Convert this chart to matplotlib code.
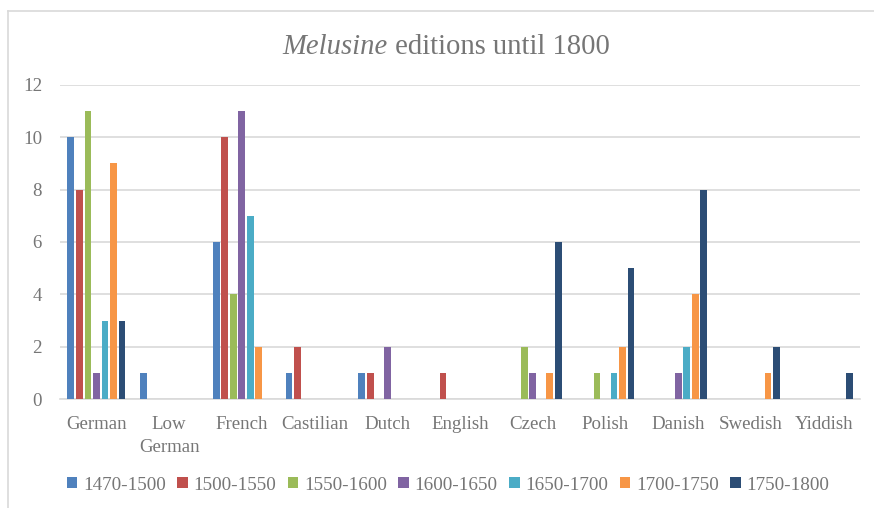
import numpy as np
import matplotlib
matplotlib.use('Agg')
import matplotlib.pyplot as plt
from matplotlib.lines import Line2D
from matplotlib.patches import Patch


languages = ['German', 'Low\nGerman', 'French', 'Castilian', 'Dutch', 'English',
             'Czech', 'Polish', 'Danish', 'Swedish', 'Yiddish']
periods = ['1470-1500', '1500-1550', '1550-1600', '1600-1650',
           '1650-1700', '1700-1750', '1750-1800']

ed_1470_1500 = [10, 1, 6, 1, 1, 0, 0, 0, 0, 0, 0]
ed_1500_1550 = [8, 0, 10, 2, 1, 1, 0, 0, 0, 0, 0]
ed_1550_1600 = [11, 0, 4, 0, 0, 0, 2, 1, 0, 0, 0]
ed_1600_1650 = [1, 0, 11, 0, 2, 0, 1, 0, 1, 0, 0]
ed_1650_1700 = [3, 0, 7, 0, 0, 0, 0, 1, 2, 0, 0]
ed_1700_1750 = [9, 0, 2, 0, 0, 0, 1, 2, 4, 1, 0]
ed_1750_1800 = [3, 0, 0, 0, 0, 0, 6, 5, 8, 2, 1]

series = [ed_1470_1500, ed_1500_1550, ed_1550_1600, ed_1600_1650,
          ed_1650_1700, ed_1700_1750, ed_1750_1800]
colors = ['#4F81BD', '#C0504D', '#9BBB59', '#8064A2', '#4BACC6', '#F79646', '#2C4D75']

text_color = '#767676'
grid_color = '#D9D9D9'
serif = ['Liberation Serif', 'DejaVu Serif']

fig = plt.figure(figsize=(8.74, 5.08), dpi=100)
ax = fig.add_axes([60 / 874, 109 / 508, 800 / 874, 314 / 508])

x = np.arange(len(languages))
step = 0.117
width = 0.092
for i, (vals, color) in enumerate(zip(series, colors)):
    ax.bar(x + (i - 3) * step, vals, width=width, color=color, label=periods[i], zorder=3)

ax.set_xlim(-0.5, len(languages) - 0.5)
ax.set_ylim(0, 12)
ax.set_yticks(range(0, 13, 2))
ax.yaxis.grid(True, color=grid_color, linewidth=1.2, zorder=0)
ax.set_xticks(x)
ax.set_xticklabels(languages, linespacing=1.45)
for s in ax.spines.values():
    s.set_visible(False)
ax.spines['bottom'].set_visible(True)
ax.spines['bottom'].set_color(grid_color)
ax.spines['bottom'].set_linewidth(1.2)
ax.tick_params(length=0, colors=text_color, labelsize=13.6)
ax.tick_params(axis='x', pad=12)
ax.tick_params(axis='y', pad=13)
for lbl in ax.get_xticklabels() + ax.get_yticklabels():
    lbl.set_family(serif)
    lbl.set_color(text_color)

# title, work name in italics
t1 = fig.text(0.0, 0.0, 'Melusine', fontsize=20.6, style='italic', family=serif, color=text_color)
t2 = fig.text(0.0, 0.0, ' editions until 1800', fontsize=20.6, family=serif, color=text_color)
fig.canvas.draw()
r = fig.canvas.get_renderer()
w1 = t1.get_window_extent(r).width
w2 = t2.get_window_extent(r).width
x0 = 446 - (w1 + w2) / 2
t1.set_position((x0 / 874, (508 - 54) / 508))
t2.set_position(((x0 + w1) / 874, (508 - 54) / 508))

handles = [Patch(facecolor=c, label=p) for c, p in zip(colors, periods)]
fig.legend(handles=handles, loc='center', bbox_to_anchor=(448 / 874, (508 - 485) / 508),
           ncol=7, frameon=False, handlelength=0.55, handleheight=0.55, handletextpad=0.3,
           columnspacing=0.6, prop={'family': serif, 'size': 13.8}, labelcolor=text_color)

# chart frame
fig.add_artist(Line2D([8 / 874, 8 / 874], [0, (508 - 11) / 508], color=grid_color, linewidth=1.2))
fig.add_artist(Line2D([8 / 874, 1], [(508 - 11) / 508] * 2, color=grid_color, linewidth=1.2))

fig.savefig('out.png', dpi=100)
